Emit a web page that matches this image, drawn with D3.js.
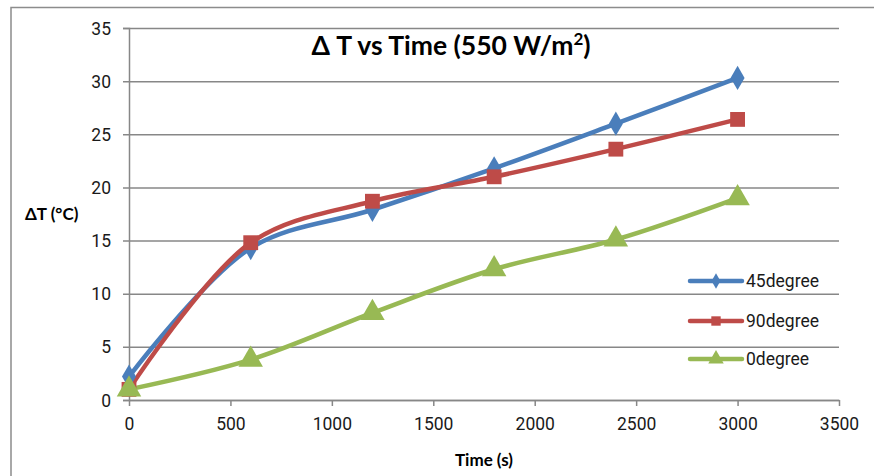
<!DOCTYPE html>
<html>
<head>
<meta charset="utf-8">
<script src="https://cdn.jsdelivr.net/npm/d3@7"></script>
<style>
  body { margin: 0; background: #fff; }
  text { font-family: Roboto, "Liberation Sans", sans-serif; fill: #1a1a1a; }
  .bold { font-weight: bold; font-family: Lato, "Open Sans", sans-serif; fill: #000; }
</style>
</head>
<body>
<div class="chart"></div>
<script>
var times = [0, 600, 1200, 1800, 2400, 3000];
var deg45 = [2.2, 14.3, 17.9, 21.8, 26.0, 30.3];
var deg90 = [1.0, 14.8, 18.7, 21.0, 23.6, 26.4];
var deg0 = [1.0, 3.8, 8.2, 12.3, 15.1, 19.0];
var seriesNames = ["45degree", "90degree", "0degree"];
var xTicks = [0, 500, 1000, 1500, 2000, 2500, 3000, 3500];
var yTicks = [0, 5, 10, 15, 20, 25, 30, 35];

var svgWidth = 874;
var svgHeight = 476;

var margin = { top: 28, right: 35, bottom: 76, left: 129 };
var width = 839 - margin.left;
var height = 400 - margin.top;

var svg = d3.select(".chart")
  .append("svg")
  .attr("width", svgWidth)
  .attr("height", svgHeight);

// outer chart border (runs off the right and bottom edges)
svg.append("rect")
  .attr("x", 11).attr("y", 7.5)
  .attr("width", 900).attr("height", 500)
  .attr("fill", "none")
  .attr("stroke", "#8c8c8c")
  .attr("stroke-width", 1.5);

var chartGroup = svg.append("g")
  .attr("transform", `translate(${margin.left}, ${margin.top})`);

var xScale = d3.scaleLinear().domain([0, 3500]).range([0, width]);
var yScale = d3.scaleLinear().domain([0, 35]).range([height, 0]);

// gridlines + y axis
var leftAxis = d3.axisLeft(yScale).tickValues(yTicks).tickSize(6).tickPadding(12);
var yAxis = chartGroup.append("g").call(leftAxis);
yAxis.select(".domain").attr("stroke", "#878787").attr("stroke-width", 1.5);
yAxis.selectAll(".tick line").attr("stroke", "#878787").attr("stroke-width", 1.5)
  .attr("x1", -6).attr("x2", width);
yAxis.selectAll(".tick text").attr("font-size", "17.5px").attr("dy", "0.35em");

var bottomAxis = d3.axisBottom(xScale).tickValues(xTicks).tickFormat(d3.format("d"))
  .tickSize(6).tickPadding(12).tickSizeOuter(0);
var xAxis = chartGroup.append("g")
  .attr("transform", `translate(0, ${height})`)
  .call(bottomAxis);
xAxis.select(".domain").attr("stroke", "#878787").attr("stroke-width", 1.5);
xAxis.selectAll(".tick line").attr("stroke", "#878787").attr("stroke-width", 1.5);
xAxis.selectAll(".tick text").attr("font-size", "17.5px");
chartGroup.selectAll(".tick text").attr("font-family", "Roboto, 'Liberation Sans', sans-serif").attr("fill", "#1a1a1a");

var colors = ["#4a7ebb", "#be4b48", "#98b954"];
var allSeries = [deg45, deg90, deg0];
var symbols = [d3.symbolDiamond, d3.symbolSquare, d3.symbolTriangle];
var symSizes = [170, 220, 260];

var line = d3.line()
  .x(d => xScale(d[0]))
  .y(d => yScale(d[1]))
  .curve(d3.curveCatmullRom.alpha(0.5));

allSeries.forEach(function(vals, i) {
  var pts = times.map((t, j) => [t, vals[j]]);
  chartGroup.append("path")
    .datum(pts)
    .attr("d", line)
    .attr("fill", "none")
    .attr("stroke", colors[i])
    .attr("stroke-width", 4.5)
    .attr("stroke-linejoin", "round")
    .attr("stroke-linecap", "round");
});

allSeries.forEach(function(vals, i) {
  var pts = times.map((t, j) => [t, vals[j]]);
  chartGroup.selectAll(".m" + i)
    .data(pts)
    .enter()
    .append("path")
    .attr("class", "m" + i)
    .attr("d", d3.symbol().type(symbols[i]).size(symSizes[i]))
    .attr("transform", d => `translate(${xScale(d[0])}, ${yScale(d[1])})`)
    .attr("fill", colors[i]);
});

// legend
var legendY = [281, 321, 359];
seriesNames.forEach(function(name, i) {
  var g = svg.append("g").attr("transform", `translate(690, ${legendY[i]})`);
  g.append("line")
    .attr("x1", 0).attr("x2", 52)
    .attr("stroke", colors[i]).attr("stroke-width", 4.5)
    .attr("stroke-linecap", "round");
  g.append("path")
    .attr("d", d3.symbol().type(symbols[i]).size(symSizes[i] * 0.4))
    .attr("transform", "translate(26, 0)")
    .attr("fill", colors[i]);
  g.append("text")
    .attr("x", 56).attr("dy", "0.35em")
    .attr("font-size", "17.5px")
    .text(name);
});

// title
var title = svg.append("text")
  .attr("class", "bold")
  .attr("x", 451).attr("y", 55)
  .attr("text-anchor", "middle")
  .attr("font-size", "26.5px");
title.append("tspan").text("Δ T vs Time (550 W/m");
title.append("tspan").attr("dy", -10).attr("font-size", "17px").text("2");
title.append("tspan").attr("dy", 10).text(")");

// axis titles
svg.append("text")
  .attr("class", "bold")
  .attr("x", 25).attr("y", 220)
  .attr("font-size", "17px")
  .text("ΔT (°C)");

svg.append("text")
  .attr("class", "bold")
  .attr("x", 484).attr("y", 466)
  .attr("text-anchor", "middle")
  .attr("font-size", "17px")
  .text("Time (s)");
</script>
</body>
</html>
